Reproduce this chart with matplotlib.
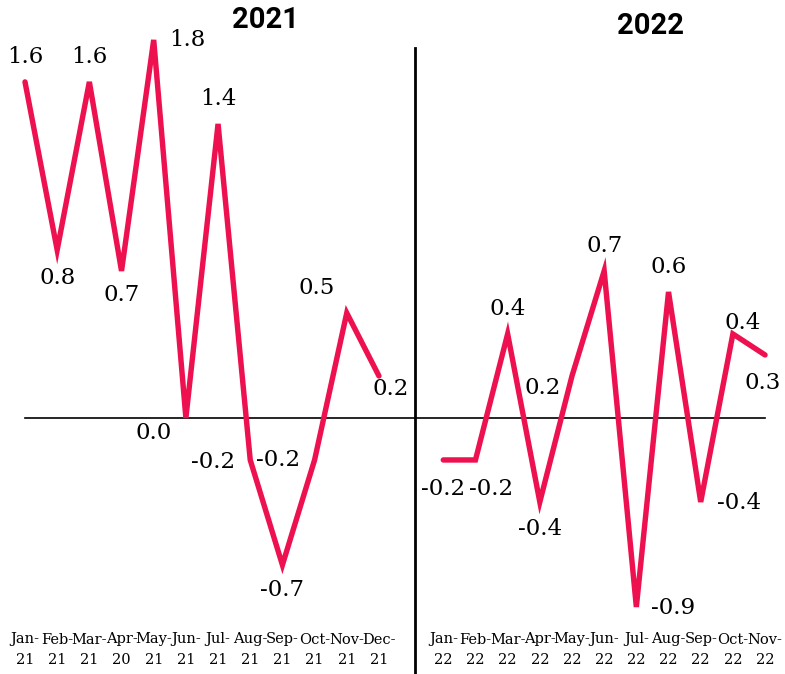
import matplotlib
matplotlib.use("Agg")
import matplotlib.pyplot as plt

# monthly values
months_21 = ["Jan-\n21", "Feb-\n21", "Mar-\n21", "Apr-\n20", "May-\n21", "Jun-\n21",
             "Jul-\n21", "Aug-\n21", "Sep-\n21", "Oct-\n21", "Nov-\n21", "Dec-\n21"]
values_21 = [1.6, 0.8, 1.6, 0.7, 1.8, 0.0, 1.4, -0.2, -0.7, -0.2, 0.5, 0.2]

months_22 = ["Jan-\n22", "Feb-\n22", "Mar-\n22", "Apr-\n22", "May-\n22", "Jun-\n22",
             "Jul-\n22", "Aug-\n22", "Sep-\n22", "Oct-\n22", "Nov-\n22"]
values_22 = [-0.2, -0.2, 0.4, -0.4, 0.2, 0.7, -0.9, 0.6, -0.4, 0.4, 0.3]

# label offsets in pixels (dx, dy), placed by hand like the original
offs_21 = [(0, 25), (0, -28), (0, 25), (0, -24), (34, 0), (-32, -15),
           (0, 25), (-37, -2), (0, -25), (-37, 0), (-30, 25), (12, -13)]
offs_22 = [(0, -29), (16, -29), (0, 25), (0, -27), (-29, -12), (0, 25),
           (37, -1), (0, 25), (38, -1), (10, 11), (-2, -28)]

red = "#ED1150"
serif = "DejaVu Serif"

fig = plt.figure(figsize=(7.85, 6.74), dpi=100)
ax = fig.add_axes([0, 54 / 674, 1, 620 / 674])

x21 = list(range(len(values_21)))
x22 = [13 + i for i in range(len(values_22))]

# zero line from first to last month
ax.plot([x21[0], x22[-1]], [0, 0], color="black", lw=1.2, zorder=1)

ax.plot(x21, values_21, color=red, lw=3.9, solid_capstyle="round",
        solid_joinstyle="miter", zorder=3)
ax.plot(x22, values_22, color=red, lw=3.9, solid_capstyle="round",
        solid_joinstyle="miter", zorder=3)

for xs, vs, offs in [(x21, values_21, offs_21), (x22, values_22, offs_22)]:
    for x, v, (dx, dy) in zip(xs, vs, offs):
        ax.annotate(f"{v:.1f}", (x, v), xytext=(dx, dy), textcoords="offset pixels",
                    ha="center", va="center", fontsize=16.5, family=serif)

ax.set_xlim(-0.777, 23.62)
ax.set_ylim(-0.962, 1.99)

# divider between the two years
ax.plot([12.13, 12.13], [1.76, -1.3], color="black", lw=2, clip_on=False, zorder=2)

ax.set_xticks(x21 + x22)
ax.set_xticklabels(months_21 + months_22, family=serif, fontsize=10.5, linespacing=1.6)
ax.tick_params(axis="x", length=0, pad=9)
ax.set_yticks([])
for s in ax.spines.values():
    s.set_visible(False)

fig.text(265 / 785, 1 - 20 / 674, "2021", ha="center", va="center",
         fontsize=21, fontweight="bold", family="Roboto")
fig.text(650 / 785, 1 - 26 / 674, "2022", ha="center", va="center",
         fontsize=21, fontweight="bold", family="Roboto")

fig.savefig("out.png", dpi=100)
